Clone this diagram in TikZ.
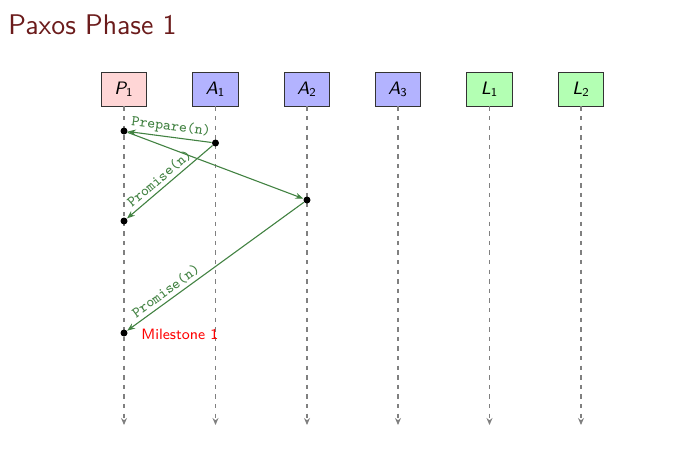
\documentclass[tikz,border=0pt]{standalone}
\usepackage{tikz}
\usetikzlibrary{arrows.meta, positioning}
\definecolor{pxtitle}{RGB}{107,27,27}
\definecolor{pxgreen}{RGB}{66,130,66}
\definecolor{pxprop}{RGB}{255,214,214}
\definecolor{pxacc}{RGB}{179,179,255}
\definecolor{pxlrn}{RGB}{179,255,179}
\tikzset{
  proc/.style={draw=black!80, minimum width=22.8pt, minimum height=17pt, inner sep=0pt, font=\sffamily\fontsize{9}{11}\selectfont},
  lifeline/.style={gray, dash pattern=on 2.2pt off 2.6pt, line width=0.55pt, -{Stealth[length=3.5pt,width=3pt]}},
  evt/.style={circle, fill=black, inner sep=0pt, minimum size=3.5pt},
  msg/.style={pxgreen, line width=0.55pt, -{Stealth[length=4pt,width=3pt]}},
  msglabel/.style={font=\ttfamily\fontsize{7.5}{9}\selectfont, text=pxgreen, sloped, above, inner sep=1.5pt}
}

\begin{document}
\begin{tikzpicture}[x=0.5pt, y=0.5pt]
\useasboundingbox (0,0) rectangle (698,-451);
% Title
\node[anchor=base west, inner sep=0pt, text=pxtitle, font=\sffamily\fontsize{14.2}{17}\selectfont] (title) at (8,-34) {Paxos Phase 1};
% Processes
\node[proc, fill=pxprop] (P1) at (124,-89) {{\itshape P}\textsubscript{1}};
\node[proc, fill=pxacc] (A1) at (215.5,-89) {{\itshape A}\textsubscript{1}};
\node[proc, fill=pxacc] (A2) at (307,-89) {{\itshape A}\textsubscript{2}};
\node[proc, fill=pxacc] (A3) at (398,-89) {{\itshape A}\textsubscript{3}};
\node[proc, fill=pxlrn] (L1) at (489.5,-89) {{\itshape L}\textsubscript{1}};
\node[proc, fill=pxlrn] (L2) at (581,-89) {{\itshape L}\textsubscript{2}};
% Lifelines
\coordinate (P1end) at (124,-425);
\coordinate (A1end) at (215.5,-425);
\coordinate (A2end) at (307,-425);
\coordinate (A3end) at (398,-425);
\coordinate (L1end) at (489.5,-425);
\coordinate (L2end) at (581,-425);
\draw[lifeline] (P1) -- (P1end);
\draw[lifeline] (A1) -- (A1end);
\draw[lifeline] (A2) -- (A2end);
\draw[lifeline] (A3) -- (A3end);
\draw[lifeline] (L1) -- (L1end);
\draw[lifeline] (L2) -- (L2end);
% Events
\node[evt] (p1a) at (124,-131) {};
\node[evt] (a1a) at (215.5,-143) {};
\node[evt] (a2a) at (307,-200) {};
\node[evt] (p1b) at (124,-221) {};
\node[evt] (p1c) at (124,-333) {};
% Messages
\draw[msg] (a1a) -- node[msglabel] {Prepare(n)} (p1a);
\draw[msg] (p1a) -- (a2a);
\draw[msg] (a1a) -- node[msglabel, pos=0.55] {Promise(n)} (p1b);
\draw[msg] (a2a) -- node[msglabel, pos=0.75] {Promise(n)} (p1c);
\node[anchor=west, text=red, font=\sffamily\fontsize{7.5}{9}\selectfont, inner sep=0pt] (ms1) at (141,-334) {Milestone 1};
\end{tikzpicture}
\end{document}
